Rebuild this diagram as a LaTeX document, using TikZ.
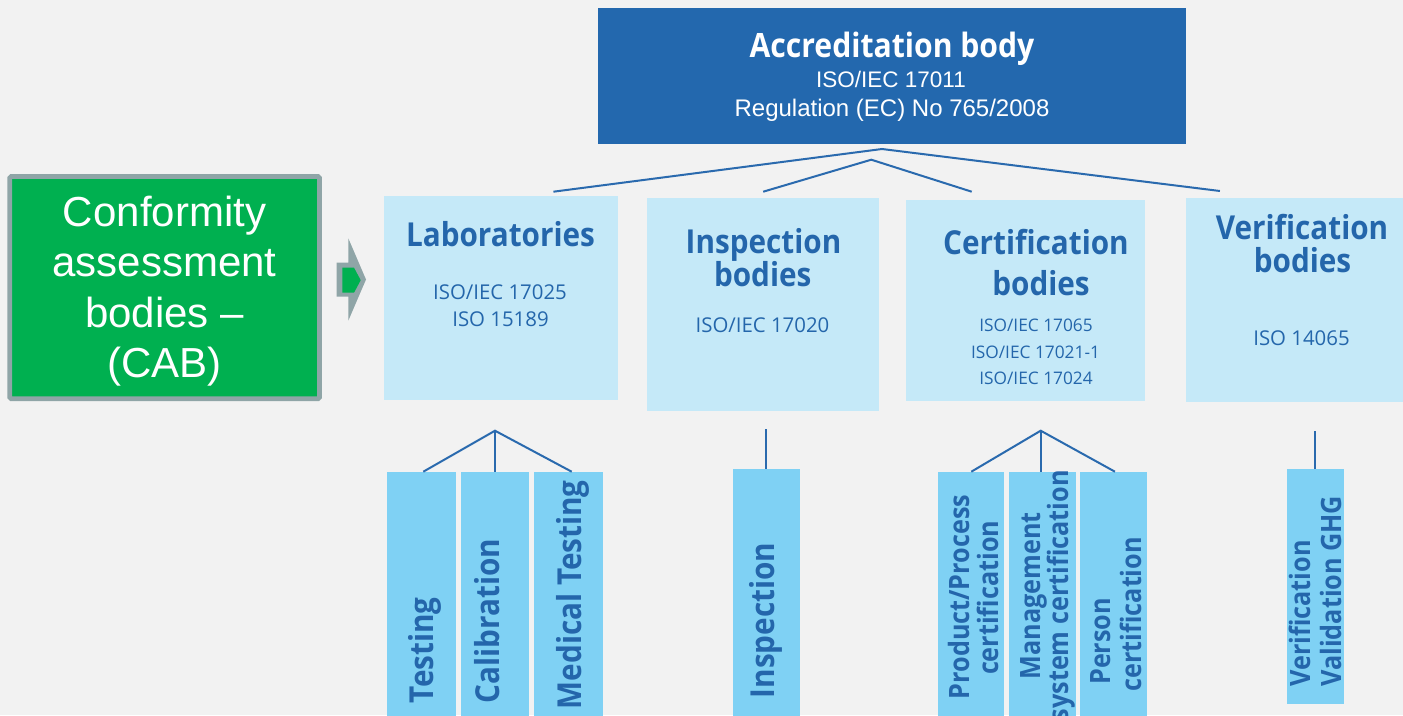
\documentclass[tikz,border=0pt]{standalone}
\usepackage{fontspec}
\setmainfont{Open Sans}
\newfontfamily\tfont[FakeStretch=0.9]{Open Sans}
\newfontfamily\afont{Liberation Sans}
\usetikzlibrary{calc}
\definecolor{bgc}{HTML}{F2F2F2}
\definecolor{topb}{HTML}{2368AE}
\definecolor{tblue}{HTML}{2466AB}
\definecolor{lineb}{HTML}{2A6AAE}
\definecolor{lightb}{HTML}{C5E9F8}
\definecolor{midb}{HTML}{7FD1F4}
\definecolor{cabgreen}{HTML}{00B050}
\definecolor{cabgrey}{HTML}{8FA5A7}
\begin{document}
\begin{tikzpicture}[x=1pt,y=-1pt,
  boxn/.style={rectangle, inner sep=0, outer sep=0, draw=none},
  lbox/.style={boxn, fill=lightb},
  mbox/.style={boxn, fill=midb},
  ttl/.style={inner sep=0, anchor=base, text=tblue, font=\tfont\bfseries\fontsize{33}{33}\selectfont},
  subt/.style={inner sep=0, anchor=base, text=tblue, font=\fontsize{20.4}{24}\selectfont},
  subs/.style={subt, font=\fontsize{17.3}{20}\selectfont},
  vt/.style={inner sep=0, rotate=90, text=tblue, font=\tfont\bfseries\fontsize{33}{33}\selectfont},
  vts/.style={vt, font=\tfont\bfseries\fontsize{28}{28}\selectfont},
  conn/.style={draw=lineb, line width=2pt}]
\clip (0,0) rectangle (1403,715);
\fill[bgc] (0,0) rectangle (1403,715);

% top box
\node[boxn, fill=topb, minimum width=588, minimum height=135.5] (acc) at (892,75.75) {};
\node[inner sep=0, anchor=base, text=white, font=\tfont\bfseries\fontsize{33.5}{33.5}\selectfont] (acc1) at (892,57.3) {Accreditation body};
\node[inner sep=0, anchor=base, text=white, font=\afont\fontsize{22.5}{24}\selectfont] (acc2) at (891,87.7) {ISO/IEC 17011};
\node[inner sep=0, anchor=base, text=white, font=\afont\fontsize{24}{26}\selectfont] (acc3) at (892,116.7) {Regulation (EC) No 765/2008};

% CAB box
\node[rectangle, fill=cabgreen, draw=cabgrey, line width=4.7, rounded corners=1.5, inner sep=0, minimum width=309.8, minimum height=222.2] (cab) at (164.6,287.6) {};
\node[inner sep=0, anchor=north, text=white, align=center, font=\afont\fontsize{42}{50.5}\selectfont] (cabtxt) at (164.5,195.8) {Conformity\\assessment\\bodies –\\(CAB)};

% arrow
\fill[cabgrey] (336.7,262.7) -- (348.3,262.7) -- (348.3,238.3) -- (366,279.5) -- (348.3,320.7) -- (348.3,296.7) -- (336.7,296.7) -- cycle;
\fill[cabgreen] (342.3,267.7) -- (354,267.7) -- (360.7,280.2) -- (354,292.7) -- (342.3,292.7) -- cycle;

% second level boxes
\node[lbox, minimum width=233.7, minimum height=204] (lab) at (500.85,298) {};
\node[lbox, minimum width=232.3, minimum height=212.7] (insp) at (762.85,304.35) {};
\node[lbox, minimum width=239, minimum height=200.7] (cert) at (1025.5,300.35) {};
\node[lbox, minimum width=224, minimum height=203.4] (verif) at (1298,300) {};

\node[ttl] (labt) at (500.5,246.7) {Laboratories};
\node[subt] (labs1) at (500,299.3) {ISO/IEC 17025};
\node[subt] (labs2) at (500.5,326) {ISO 15189};

\node[ttl] (inst1) at (763.5,253.3) {Inspection};
\node[ttl] (inst2) at (762.7,286) {bodies};
\node[subt] (inss) at (762.5,332.7) {ISO/IEC 17020};

\node[ttl] (cert1) at (1036,254.3) {Certification};
\node[ttl] (cert2) at (1041,295.7) {bodies};
\node[subs] (certs1) at (1036,331) {ISO/IEC 17065};
\node[subs] (certs2) at (1035.5,358.3) {ISO/IEC 17021-1};
\node[subs] (certs3) at (1036,384.3) {ISO/IEC 17024};

\node[ttl] (ver1) at (1302,239) {Verification};
\node[ttl] (ver2) at (1302.5,272.3) {bodies};
\node[subt] (vers) at (1301.5,345) {ISO 14065};

% top connectors
\coordinate (apA) at (882,149);
\coordinate (apB) at (871.3,159.7);
\coordinate (eLab) at (553.4,191.7);
\coordinate (eVer) at (1219.9,191);
\coordinate (eIns) at (763.2,191.7);
\coordinate (eCer) at (971.7,191.7);
\draw[conn] (eLab) -- (apA) -- (eVer);
\draw[conn] (eIns) -- (apB) -- (eCer);

% third level boxes
\node[mbox, minimum width=68.4, minimum height=248.3] (test) at (421.5,595.85) {};
\node[mbox, minimum width=68, minimum height=248.3] (calib) at (495,595.85) {};
\node[mbox, minimum width=68.4, minimum height=248.3] (med) at (568.5,595.85) {};
\node[mbox, minimum width=67.3, minimum height=251] (inspb) at (766.35,594.5) {};
\node[mbox, minimum width=66, minimum height=248.3] (prod) at (971.3,595.85) {};
\node[mbox, minimum width=66.4, minimum height=248.3] (mgmt) at (1042.5,595.85) {};
\node[mbox, minimum width=66.7, minimum height=248.3] (pers) at (1113.65,595.85) {};
\node[mbox, minimum width=57.3, minimum height=235] (verb) at (1315.35,586.5) {};

% bottom connectors
\coordinate (apL) at (495,430.7);
\coordinate (apI) at (766,429.3);
\coordinate (apC) at (1040.7,430.7);
\coordinate (apV) at (1315,431);
\draw[conn] ([xshift=1.8pt]test.north) -- (apL) -- ([xshift=3.2pt]med.north);
\draw[conn] (apL) -- (apL |- calib.north);
\draw[conn] (apI) -- (apI |- inspb.north);
\draw[conn] (prod.north) -- (apC) -- ([xshift=1.3pt]pers.north);
\draw[conn] (apC) -- (apC |- mgmt.north);
\draw[conn] (apV) -- (apV |- verb.north);

% vertical texts
\node[vt, anchor=base west] (testt) at (433.3,703.3) {Testing};
\node[vt, anchor=base west] (calibt) at (499,703.3) {Calibration};
\node[vt, anchor=base east] (medt) at (581.7,480) {Medical Testing};
\node[vt, anchor=base west] (inspbt) at (774,698.3) {Inspection};
\node[vts, anchor=base] (prodt1) at (969,597) {Product/Process};
\node[vts, anchor=base] (prodt2) at (998,597.8) {certification};
\node[vts, anchor=base] (mgmtt1) at (1040.7,595.8) {Management};
\node[vts, anchor=base] (mgmtt2) at (1068.3,595.8) {system certification};
\node[vts, anchor=base west] (perst1) at (1110,685) {Person};
\node[vts, anchor=base west] (perst2) at (1141.7,691.7) {certification};
\node[vts, anchor=base west] (verbt1) at (1310,686.7) {Verification};
\node[vts, anchor=base west] (verbt2) at (1341.7,686.7) {Validation GHG};
\end{tikzpicture}
\end{document}
